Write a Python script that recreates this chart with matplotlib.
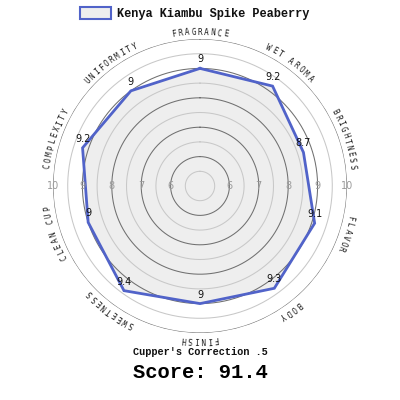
import numpy as np
import matplotlib
matplotlib.use("Agg")
import matplotlib.pyplot as plt
from matplotlib.patches import Rectangle

categories = ["FRAGRANCE", "WET AROMA", "BRIGHTNESS", "FLAVOR", "BODY",
              "FINISH", "SWEETNESS", "CLEAN CUP", "COMPLEXITY", "UNIFORMITY"]
values = [9, 9.2, 8.7, 9.1, 9.3, 9, 9.4, 9, 9.2, 9]
value_labels = ["9", "9.2", "8.7", "9.1", "9.3", "9", "9.4", "9", "9.2", "9"]
tick_values = [6, 7, 8, 9, 10]
ring_values = [5.5, 6, 6.5, 7, 7.5, 8, 8.5, 9, 9.5, 10]
series_name = "Kenya Kiambu Spike Peaberry"
correction_text = "Cupper's Correction .5"
score_text = "Score: 91.4"

BLUE = "#5163c9"
FILL = "#eeeeee"

fig = plt.figure(figsize=(4, 4), dpi=100)
ax = fig.add_axes([0.1325, 0.1675, 0.735, 0.735], projection="polar")
ax.set_theta_zero_location("N")
ax.set_theta_direction(-1)
ax.set_ylim(5, 10)
ax.grid(False)
ax.set_xticks([])
ax.set_yticks([])
ax.spines["polar"].set_visible(False)
ax.patch.set_alpha(0)

n = len(categories)
theta = np.arange(n) * 2 * np.pi / n
tc = np.append(theta, theta[0])
vc = np.append(values, values[0])

ax.fill(tc, vc, color=FILL, zorder=1, lw=0)

full = np.linspace(0, 2 * np.pi, 400)
for r in ring_values:
    if float(r).is_integer():
        col, lw = "#707070", 0.75
    else:
        col, lw = "#c8c8c8", 0.75
    ax.plot(full, np.full_like(full, r), color=col, lw=lw, zorder=2)

ax.plot(tc, vc, color=BLUE, lw=2, zorder=4, solid_joinstyle="miter")

# tick labels left and right
for t in tick_values:
    for ang in (np.pi / 2, 3 * np.pi / 2):
        ax.text(ang, t, str(t), color="#9a9a9a", fontsize=7, ha="center",
                va="center", zorder=5, family="DejaVu Sans")

# value labels
for th, v, lab in zip(theta, values, value_labels):
    ax.annotate(lab, xy=(th, v), xytext=(0, 6.5), textcoords="offset points",
                ha="center", va="center", fontsize=7, color="#111111",
                zorder=6, family="DejaVu Sans")

# curved category labels
label_r = 10.23
step = np.deg2rad(2.4)
for th, cat in zip(theta, categories):
    m = len(cat)
    for i, ch in enumerate(cat):
        a = th + (i - (m - 1) / 2) * step
        ax.text(a, label_r, ch, rotation=-np.rad2deg(a), rotation_mode="anchor",
                ha="center", va="center", fontsize=5.6, color="#1a1a1a",
                family="DejaVu Sans Mono", clip_on=False)

# legend
fig.patches.append(Rectangle((80 / 400, 1 - 19 / 400), 31 / 400, 12 / 400,
                             transform=fig.transFigure, facecolor=FILL,
                             edgecolor=BLUE, lw=1.5))
fig.text(117 / 400, 1 - 13.5 / 400, series_name, family="Liberation Mono",
         weight="bold", fontsize=8.6, ha="left", va="center", color="#111111")

fig.text(0.5, 1 - 352 / 400, correction_text, family="Liberation Mono",
         weight="bold", fontsize=7.4, ha="center", va="center", color="#111111")
fig.text(0.5, 1 - 373 / 400, score_text, family="Liberation Mono",
         weight="bold", fontsize=14.8, ha="center", va="center", color="#000000")

fig.savefig("out.png", dpi=100)
